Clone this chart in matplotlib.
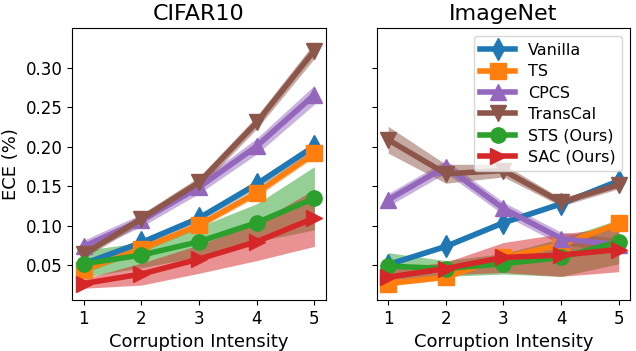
import numpy as np
import matplotlib
matplotlib.use("Agg")
import matplotlib.pyplot as plt

# corruption intensity levels
x = [1, 2, 3, 4, 5]

names = ["Vanilla", "TS", "CPCS", "TransCal", "STS (Ours)", "SAC (Ours)"]
colors = ["tab:blue", "tab:orange", "tab:purple", "tab:brown", "tab:green", "tab:red"]
markers = ["d", "s", "^", "v", "o", ">"]

# CIFAR10 ECE means / std
cifar_vanilla = [0.052, 0.079, 0.110, 0.153, 0.201]
cifar_ts = [0.044, 0.071, 0.101, 0.142, 0.192]
cifar_cpcs = [0.074, 0.107, 0.149, 0.201, 0.266]
cifar_transcal = [0.064, 0.109, 0.155, 0.231, 0.322]
cifar_sts = [0.052, 0.063, 0.080, 0.104, 0.135]
cifar_sac = [0.027, 0.039, 0.058, 0.080, 0.110]

cifar_vanilla_std = [0.004, 0.004, 0.004, 0.005, 0.005]
cifar_ts_std = [0.004, 0.004, 0.004, 0.005, 0.005]
cifar_cpcs_std = [0.008, 0.008, 0.008, 0.010, 0.012]
cifar_transcal_std = [0.005, 0.006, 0.007, 0.008, 0.010]
cifar_sts_std = [0.017, 0.016, 0.019, 0.024, 0.040]
cifar_sac_std = [0.006, 0.014, 0.018, 0.024, 0.036]

# ImageNet ECE means / std
imnet_vanilla = [0.051, 0.074, 0.104, 0.128, 0.157]
imnet_ts = [0.027, 0.035, 0.060, 0.076, 0.103]
imnet_cpcs = [0.133, 0.175, 0.122, 0.084, 0.076]
imnet_transcal = [0.209, 0.166, 0.170, 0.130, 0.152]
imnet_sts = [0.049, 0.046, 0.052, 0.060, 0.080]
imnet_sac = [0.035, 0.046, 0.060, 0.063, 0.070]

imnet_vanilla_std = [0.003, 0.003, 0.003, 0.003, 0.003]
imnet_ts_std = [0.003, 0.003, 0.003, 0.003, 0.003]
imnet_cpcs_std = [0.008, 0.008, 0.008, 0.008, 0.008]
imnet_transcal_std = [0.017, 0.012, 0.008, 0.005, 0.005]
imnet_sts_std = [0.017, 0.010, 0.013, 0.024, 0.028]
imnet_sac_std = [0.010, 0.008, 0.019, 0.027, 0.028]

cifar = [cifar_vanilla, cifar_ts, cifar_cpcs, cifar_transcal, cifar_sts, cifar_sac]
cifar_std = [cifar_vanilla_std, cifar_ts_std, cifar_cpcs_std, cifar_transcal_std, cifar_sts_std, cifar_sac_std]
imnet = [imnet_vanilla, imnet_ts, imnet_cpcs, imnet_transcal, imnet_sts, imnet_sac]
imnet_std = [imnet_vanilla_std, imnet_ts_std, imnet_cpcs_std, imnet_transcal_std, imnet_sts_std, imnet_sac_std]

fig, axes = plt.subplots(1, 2, figsize=(6.36, 3.51), dpi=100, sharey=True)
fig.subplots_adjust(left=0.1137, right=0.991, bottom=0.145, top=0.919, wspace=0.2)

for ax, title, means, stds in [(axes[0], "CIFAR10", cifar, cifar_std),
                               (axes[1], "ImageNet", imnet, imnet_std)]:
    for name, c, m, mu, sd in zip(names, colors, markers, means, stds):
        mu = np.array(mu)
        sd = np.array(sd)
        ax.plot(x, mu, color=c, marker=m, lw=4, ms=11, label=name)
        ax.fill_between(x, mu - sd, mu + sd, color=c, alpha=0.5, lw=0)
    ax.set_title(title, fontsize=16)
    ax.set_xlabel("Corruption Intensity", fontsize=13)
    ax.set_xticks(x)
    ax.tick_params(labelsize=12)

axes[0].set_ylabel("ECE (%)", fontsize=13)
axes[0].set_ylim(0.006, 0.350)
axes[0].set_yticks([0.05, 0.10, 0.15, 0.20, 0.25, 0.30])
axes[1].legend(loc="upper right", fontsize=11.5, handlelength=2.2, labelspacing=0.4)

plt.savefig("out.png", dpi=100)
